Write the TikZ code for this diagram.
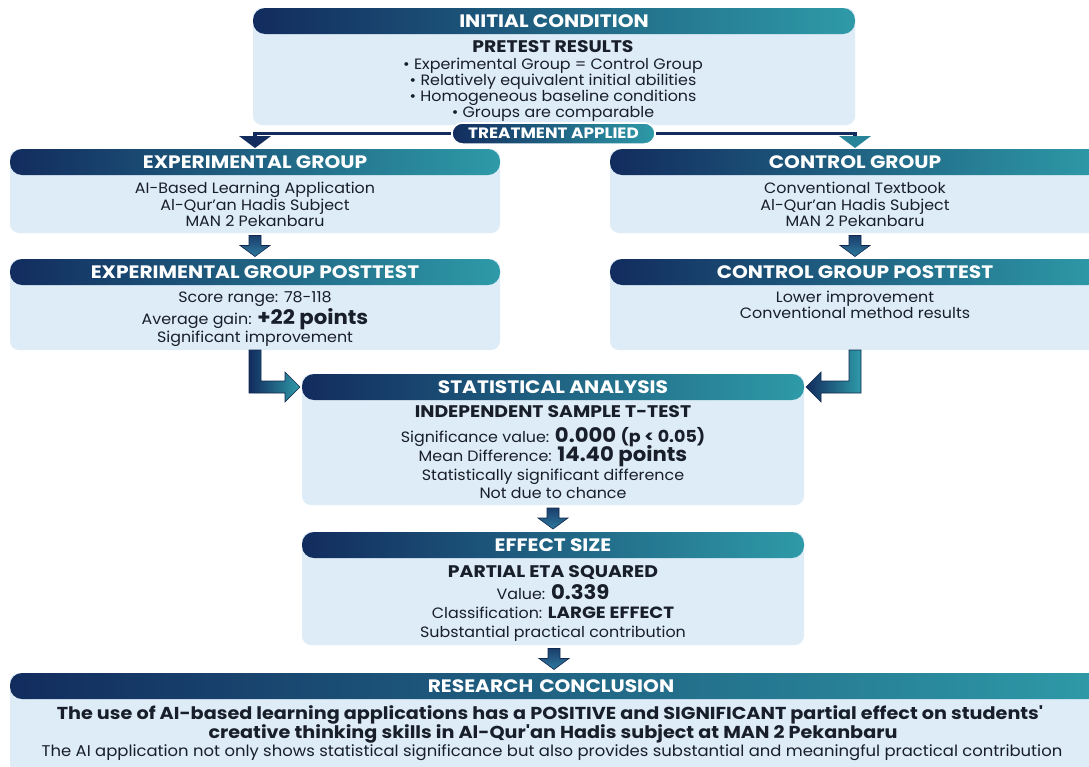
\documentclass[tikz,border=0pt]{standalone}
\usepackage{fontspec}
\setmainfont[FakeStretch=1.06]{Poppins}
\newfontfamily\hfont[FakeStretch=1.12]{Poppins}
\newfontfamily\cfont[FakeStretch=1.11]{Poppins}
\usetikzlibrary{calc}
\definecolor{navy}{RGB}{18,44,94}
\definecolor{tealc}{RGB}{46,154,168}
\definecolor{bodyc}{RGB}{221,236,246}
\definecolor{txtc}{RGB}{24,30,42}
\definecolor{arrtop}{RGB}{26,62,108}
\definecolor{arrbot}{RGB}{46,122,158}
\definecolor{arrline}{RGB}{18,40,78}
\tikzset{
 bodybox/.style={rectangle, fill=bodyc, rounded corners=9pt, anchor=north west, inner sep=0pt, outer sep=0pt},
 headbox/.style={rectangle, rounded corners=12pt, left color=navy, right color=tealc, minimum height=26pt, anchor=north west, inner sep=0pt, outer sep=0pt, text=white, font=\fontsize{18}{18}\selectfont\hfont\bfseries},
 pillbox/.style={rectangle, rounded corners=10.5pt, left color=navy, right color=tealc, draw=white, line width=1.5pt, minimum width=203pt, minimum height=21pt, inner sep=0pt, text=white, font=\fontsize{15}{15}\selectfont\hfont\bfseries},
 tl/.style={anchor=base, inner sep=0pt, text=txtc, font=\fontsize{15}{16}\selectfont},
 tlb/.style={tl, font=\fontsize{16.8}{16}\selectfont\hfont\bfseries},
 cl/.style={anchor=base, inner sep=0pt, text=txtc, font=\fontsize{15.5}{16}\selectfont},
 clb/.style={cl, font=\fontsize{17.3}{18}\selectfont\cfont\bfseries},
 blk/.style={draw=arrline, line width=0.6pt, top color=arrtop, bottom color=arrbot},
 blkh/.style={draw=arrline, line width=0.6pt, left color=navy, right color=tealc},
 conn/.style={draw=navy, line width=3.5pt},
}
\newcommand\bignum[1]{{\fontsize{20}{16}\selectfont\bfseries #1}}
\newcommand\downblock[2]{%
 \begin{scope}[shift={($(#1.south)!0.5!(#2.north)$)}]
 \draw[blk] (-6,-10.5) -- (6,-10.5) -- (6,-0.5) -- (15,-0.5) -- (0,10.5) -- (-15,-0.5) -- (-6,-0.5) -- cycle;
 \end{scope}}
\begin{document}
\begin{tikzpicture}[x=1pt,y=-1pt]
\useasboundingbox[fill=white] (0,0) rectangle (1089,766);
% bodies
\node[bodybox, minimum width=602pt, minimum height=117pt] (ic) at (253,8) {};
\node[bodybox, minimum width=490pt, minimum height=84pt] (exp) at (10,149) {};
\node[bodybox, minimum width=490pt, minimum height=84pt] (ctl) at (610,149) {};
\node[bodybox, minimum width=490pt, minimum height=91pt] (exppost) at (10,259) {};
\node[bodybox, minimum width=490pt, minimum height=91pt] (ctlpost) at (610,259) {};
\node[bodybox, minimum width=502pt, minimum height=131pt] (stats) at (302,374) {};
\node[bodybox, minimum width=502pt, minimum height=113pt] (eff) at (302,532) {};
\node[bodybox, minimum width=1090pt, minimum height=100pt] (concl) at (10,673) {};
% headers
\node[headbox, minimum width=602pt] (ich) at (253,8) {INITIAL CONDITION};
\node[headbox, minimum width=490pt] (exph) at (10,149) {EXPERIMENTAL GROUP};
\node[headbox, minimum width=490pt] (ctlh) at (610,149) {CONTROL GROUP};
\node[headbox, minimum width=490pt] (exppth) at (10,259) {EXPERIMENTAL GROUP POSTTEST};
\node[headbox, minimum width=490pt] (ctlpth) at (610,259) {CONTROL GROUP POSTTEST};
\node[headbox, minimum width=502pt] (statsh) at (302,374) {STATISTICAL ANALYSIS};
\node[headbox, minimum width=502pt] (effh) at (302,532) {EFFECT SIZE};
\node[headbox, minimum width=1090pt, text width=1090pt, align=center] (conclh) at (10,673) {\hspace*{-8pt}RESEARCH CONCLUSION};
% texts: initial condition
\node[tlb] (ic1) at (553,52.5) {PRETEST RESULTS};
\node[tl] (ic2) at (553,69) {• Experimental Group = Control Group};
\node[tl] (ic3) at (553,85) {• Relatively equivalent initial abilities};
\node[tl] (ic4) at (553,101) {• Homogeneous baseline conditions};
\node[tl] (ic5) at (553,117) {• Groups are comparable};
% experimental group
\node[tl] (ex1) at (255,193) {AI-Based Learning Application};
\node[tl] (ex2) at (255,210) {Al-Qur’an Hadis Subject};
\node[tl] (ex3) at (255,226) {MAN 2 Pekanbaru};
% control group
\node[tl] (ct1) at (855,193) {Conventional Textbook};
\node[tl] (ct2) at (855,210) {Al-Qur'an Hadis Subject};
\node[tl] (ct3) at (855,226) {MAN 2 Pekanbaru};
% posttests
\node[tl] (ep1) at (255,302) {Score range: 78-118};
\node[tl] (ep2) at (255,324) {Average gain: \bignum{+22 points}};
\node[tl] (ep3) at (255,342) {Significant improvement};
\node[tl] (cp1) at (855,302) {Lower improvement};
\node[tl] (cp2) at (855,318) {Conventional method results};
% stats
\node[tlb] (st1) at (553,417) {INDEPENDENT SAMPLE T-TEST};
\node[tl] (st2) at (553,442) {Significance value: \bignum{0.000} {\fontsize{16.5}{16}\selectfont\bfseries (p < 0.05)}};
\node[tl] (st3) at (553,461) {Mean Difference: \bignum{14.40 points}};
\node[tl] (st4) at (553,480) {Statistically significant difference};
\node[tl] (st5) at (553,498) {Not due to chance};
% effect size
\node[tlb] (ef1) at (553,577) {PARTIAL ETA SQUARED};
\node[tl] (ef2) at (553,599) {Value: \bignum{0.339}};
\node[tl] (ef3) at (553,618) {Classification: {\fontsize{16.3}{16}\selectfont\hfont\bfseries LARGE EFFECT}};
\node[tl] (ef4) at (553,637) {Substantial practical contribution};
% conclusion
\node[clb] (co1) at (550,719) {The use of AI-based learning applications has a POSITIVE and SIGNIFICANT partial effect on students'};
\node[clb] (co2) at (553,738) {creative thinking skills in Al-Qur'an Hadis subject at MAN 2 Pekanbaru};
\node[cl] (co3) at (552,756) {The AI application not only shows statistical significance but also provides substantial and meaningful practical contribution};
% treatment connector
\node[pillbox] (pill) at (553.5,133.5) {};
\draw[conn] (pill.west) -- (exph.north |- pill.west) -- ($(exph.north)+(0,-10)$);
\draw[conn] (pill.east) -- (ctlh.north |- pill.east) -- ($(ctlh.north)+(0,-10)$);
\fill[navy] ($(exph.north)+(-16,-13)$) -- ($(exph.north)+(16,-13)$) -- ($(exph.north)+(0,-1)$) -- cycle;
\fill[tealc!80!navy] ($(ctlh.north)+(-16,-13)$) -- ($(ctlh.north)+(16,-13)$) -- ($(ctlh.north)+(0,-1)$) -- cycle;
\node[pillbox] (pill2) at (pill) {TREATMENT APPLIED};
% down arrows
\downblock{exp}{exppost}
\downblock{ctl}{ctlpost}
\downblock{stats}{eff}
\downblock{eff}{conclh}
% bent arrows
\coordinate (L0) at (exppost.south);
\coordinate (LT) at (statsh.west);
\draw[blkh] ($(L0)+(-6,0)$) -- ($(L0)+(6,0)$) -- ($(L0 |- LT)+(6,-6)$) -- ($(LT)+(-17,-6)$) -- ($(LT)+(-17,-15)$) -- ($(LT)+(-2,0)$) -- ($(LT)+(-17,15)$) -- ($(LT)+(-17,6)$) -- ($(L0 |- LT)+(-6,6)$) -- cycle;
\coordinate (R0) at (ctlpost.south);
\coordinate (RT) at (statsh.east);
\draw[blkh] ($(R0)+(6,0)$) -- ($(R0)+(-6,0)$) -- ($(R0 |- RT)+(-6,-6)$) -- ($(RT)+(17,-6)$) -- ($(RT)+(17,-15)$) -- ($(RT)+(2,0)$) -- ($(RT)+(17,15)$) -- ($(RT)+(17,6)$) -- ($(R0 |- RT)+(6,6)$) -- cycle;
\end{tikzpicture}
\end{document}
